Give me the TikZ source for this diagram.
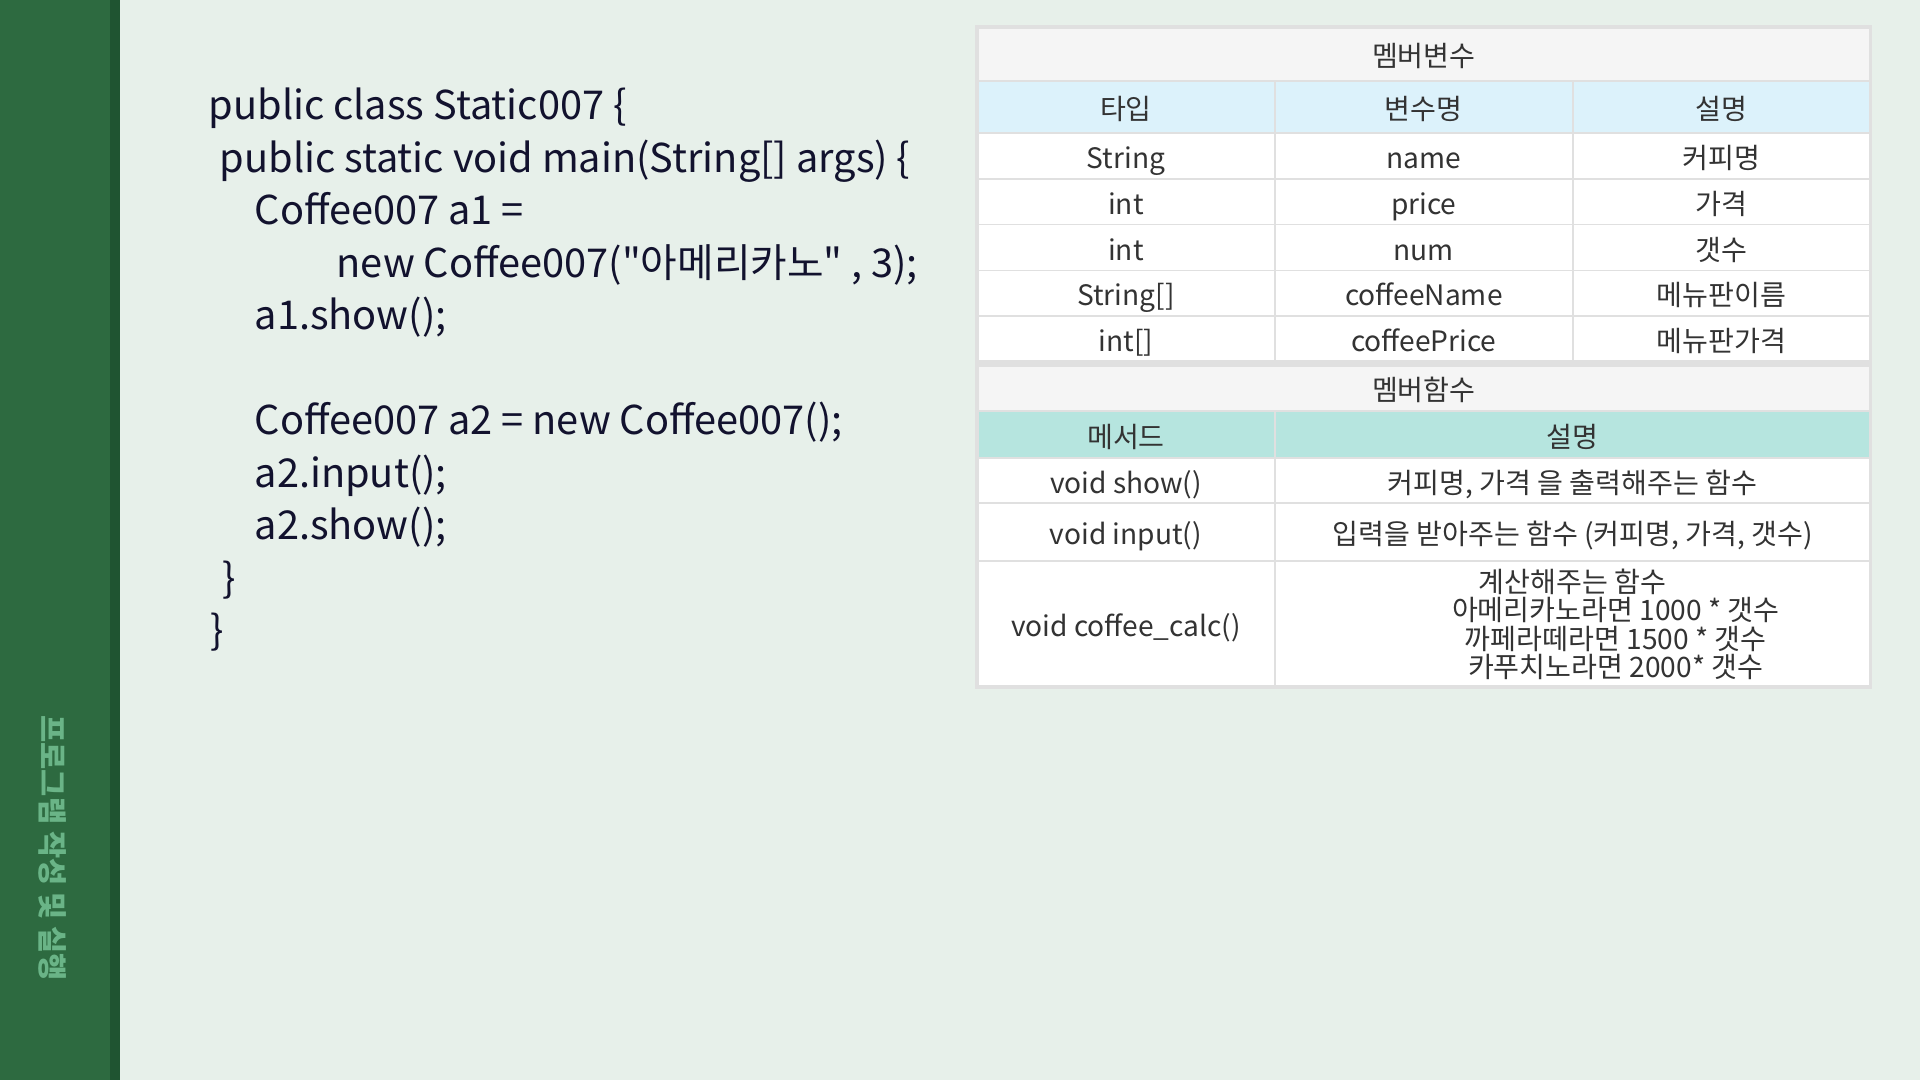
\documentclass[tikz,border=0pt]{standalone}
\usepackage{fontspec}
\setmainfont{Noto Sans CJK KR}
\newfontfamily\codefont{Noto Sans CJK KR}[Ligatures=ResetAll]
\usetikzlibrary{positioning}

\definecolor{pagebg}{HTML}{E7F0EA}
\definecolor{sidebar}{HTML}{2D6A40}
\definecolor{sidestripe}{HTML}{1F5431}
\definecolor{sidetext}{HTML}{6AB487}
\definecolor{codeink}{HTML}{12122E}
\definecolor{cellline}{HTML}{E0E0E0}
\definecolor{titlefill}{HTML}{F5F5F5}
\definecolor{headblue}{HTML}{DCF2FB}
\definecolor{headteal}{HTML}{B6E5DF}
\definecolor{cellink}{HTML}{333333}

\newcommand{\cellfont}{\fontsize{8}{8.1}\selectfont}
\newcommand{\codesize}{\codefont\fontsize{11.3}{15}\selectfont}

\begin{document}
\begin{tikzpicture}[x=0.01cm,y=-0.01cm]
\tikzstyle{cellbase} = [draw=cellline, line width=0.5pt, inner sep=0pt, outer sep=0pt, anchor=north west, fill=white, font=\cellfont, text=cellink]
\tikzstyle{cell} = [cellbase, text height=0.8em, text depth=0.08em]
\tikzstyle{wide} = [cell, minimum width=8.93cm]
\tikzstyle{third} = [cell, minimum width=2.977cm]
\tikzstyle{codeline} = [anchor=base west, inner sep=0pt, font=\codesize, text=codeink]

\useasboundingbox (0,0) rectangle (1920,1080);
\fill[pagebg] (0,0) rectangle (1920,1080);
\fill[sidebar] (0,0) rectangle (110,1080);
\fill[sidestripe] (110,0) rectangle (120,1080);
\node[rotate=-90, text=sidetext, font=\bfseries\fontsize{8.4}{9}\selectfont] (side) at (53,848) {프로그램 작성 및 실행};

% code
\foreach \dx/\ln/\txt in {
    208/120/{public class Static007 \{},
    219/172.5/{public static void main(String[] args) \{},
    254/225/{Coffee007 a1 =},
    336/277.5/{new Coffee007("아메리카노" , 3);},
    254/330/{a1.show();},
    254/435/{Coffee007 a2 = new Coffee007();},
    254/487.5/{a2.input();},
    254/540/{a2.show();},
    222/592.5/{\}},
    210/645/{\}}}
  \node[codeline] at (\dx,\ln) {\txt};

% member variables
\node[wide, fill=titlefill, minimum height=0.54cm] (vtitle) at (977,27) {멤버변수};
\node[third, fill=headblue, minimum height=0.52cm, below right=0pt and 0pt of vtitle.south west] (htype) {타입};
\node[third, fill=headblue, minimum height=0.52cm, right=0pt of htype] (hvar) {변수명};
\node[third, fill=headblue, minimum height=0.52cm, right=0pt of hvar] (hdesc) {설명};
\foreach \typ/\var/\desc [count=\i] in {String/name/커피명, int/price/가격, int/num/갯수, String[]/coffeeName/메뉴판이름, int[]/coffeePrice/메뉴판가격}{
  \node[third, minimum height=0.458cm] (v\i t) at (977,{133+(\i-1)*45.8}) {\typ};
  \node[third, minimum height=0.458cm, right=0pt of v\i t] (v\i v) {\var};
  \node[third, minimum height=0.458cm, right=0pt of v\i v] (v\i d) {\desc};
}
\draw[cellline, line width=1pt] (vtitle.north west) rectangle (v5d.south east);

% member functions
\node[wide, fill=titlefill, minimum height=0.46cm] (ftitle) at (977,365) {멤버함수};
\node[third, fill=headteal, minimum height=0.47cm, below right=0pt and 0pt of ftitle.south west] (hmeth) {메서드};
\node[cell, fill=headteal, minimum width=5.953cm, minimum height=0.47cm, right=0pt of hmeth] (hexp) {설명};
\node[third, minimum height=0.45cm, below right=0pt and 0pt of hmeth.south west] (show) {void show()};
\node[cell, minimum width=5.953cm, minimum height=0.45cm, right=0pt of show] (showd) {커피명, 가격 을 출력해주는 함수};
\node[third, minimum height=0.58cm, below right=0pt and 0pt of show.south west] (input) {void input()};
\node[cell, minimum width=5.953cm, minimum height=0.58cm, right=0pt of input] (inputd) {입력을 받아주는 함수 (커피명, 가격, 갯수)};
\node[third, minimum height=1.26cm, below right=0pt and 0pt of input.south west] (calc) {void coffee\_calc()};
\node[cellbase, minimum width=5.953cm, minimum height=1.26cm, right=0pt of calc, align=center] (calcd) {계산해주는 함수\\
  \hspace*{0.86cm}아메리카노라면 1000 * 갯수\\
  \hspace*{0.86cm}까페라떼라면 1500 * 갯수\\
  \hspace*{0.86cm}카푸치노라면 2000* 갯수};
\draw[cellline, line width=1pt] (ftitle.north west) rectangle (calcd.south east);
\end{tikzpicture}
\end{document}
